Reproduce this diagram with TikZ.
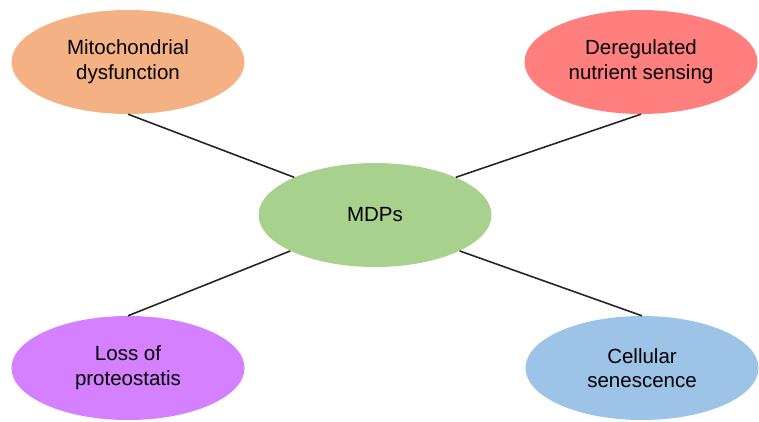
\documentclass[tikz,border=0pt]{standalone}
\usepackage{fontspec}
\setmainfont{Liberation Sans}
\usetikzlibrary{shapes.geometric}
\definecolor{mitoorange}{HTML}{F4B183}
\definecolor{nutrired}{HTML}{FF7F7F}
\definecolor{mdpgreen}{HTML}{A9D18E}
\definecolor{protpurple}{HTML}{D580FF}
\definecolor{senblue}{HTML}{9DC3E6}
\begin{document}
\begin{tikzpicture}[x=1pt,y=1pt,
	bubble/.style={ellipse, draw=none, minimum width=233pt, minimum height=104pt,
		inner sep=0pt, align=center, text=black,
		font=\fontsize{20.5}{24.6}\selectfont},
	link/.style={black!85, line width=1.6pt}]
	\useasboundingbox (0,0) rectangle (759,421);
	\node [bubble, fill=mitoorange] (mito) at (128,359) {Mitochondrial\\dysfunction};
	\node [bubble, fill=nutrired] (nutri) at (641,359) {Deregulated\\nutrient sensing};
	\node [bubble, fill=mdpgreen] (mdp) at (375,206) {MDPs};
	\node [bubble, fill=protpurple] (prot) at (128,53) {Loss of\\proteostatis};
	\node [bubble, fill=senblue] (sen) at (642,53) {Cellular\\senescence};
	\draw [link] (mito.south) -- (mdp.155);
	\draw [link] (nutri.south) -- (mdp.25);
	\draw [link] (prot.north) -- (mdp.203);
	\draw [link] (sen.north) -- (mdp.337);
\end{tikzpicture}
\end{document}
